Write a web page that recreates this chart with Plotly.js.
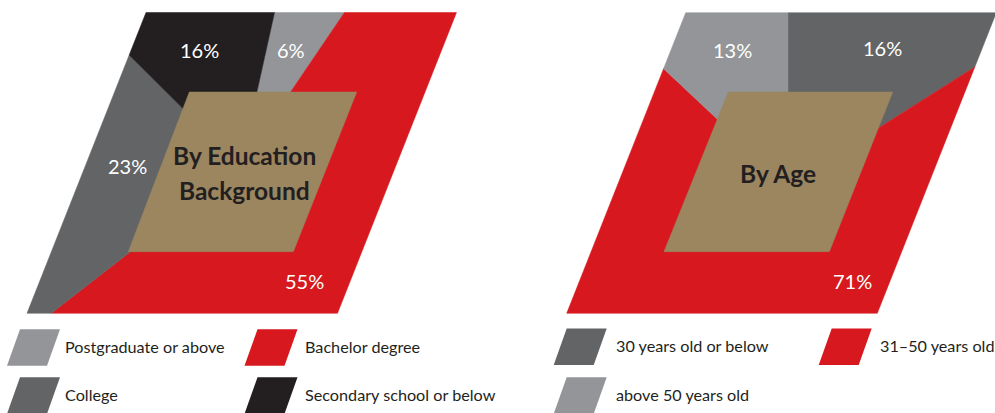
<!DOCTYPE html>
<html><head><meta charset="utf-8">
<script src="https://cdn.plot.ly/plotly-3.0.1.min.js"></script>
<style>html,body{margin:0;padding:0;background:#fff}</style>
</head><body><div id="chart" style="width:995px;height:413px"></div>
<script>
// ---------- data ----------
const eduCategories = ['Postgraduate or above', 'Bachelor degree', 'College', 'Secondary school or below'];
const eduValues = [6, 55, 23, 16];
const eduColors = ['#939598', '#d7191f', '#636466', '#231f20'];
const eduTitle = 'By Education<br>Background';

const ageCategories = ['30 years old or below', '31–50 years old', 'above 50 years old'];
const ageValues = [16, 71, 13];
const ageColors = ['#636466', '#d7191f', '#939598'];
const ageTitle = 'By Age';

// ---------- layout geometry (pixel space) ----------
const charts = [
  {
    cats: eduCategories, vals: eduValues, colors: eduColors, title: eduTitle,
    outer: [[146, 12.5], [456.5, 12.5], [337.5, 313.3], [27, 313.3]],
    inner: [[189.3, 92], [356.7, 92], [293.3, 251.7], [128.3, 251.7]],
    center: [240.5, 166], rotation: 12.5,
    labelPos: [[291, 50], [304, 281], [127, 166], [199, 50]],
    titlePos: [244, 172.7],
    legend: { cols: [[20, 63], [257.5, 303]], rows: [329.3, 377.3], order: [[0, 0], [1, 0], [0, 1], [1, 1]] }
  },
  {
    cats: ageCategories, vals: ageValues, colors: ageColors, title: ageTitle,
    outer: [[685.7, 12.7], [996.3, 12.7], [877.3, 313.3], [566.7, 313.3]],
    inner: [[728.3, 92], [892.7, 92], [829.3, 251.7], [664, 251.7]],
    center: [788, 185.5], rotation: 0,
    labelPos: [[882, 48], [852, 281], [732, 50]],
    titlePos: [778, 173.5],
    legend: { cols: [[566.7, 614], [831.7, 878]], rows: [328.5, 377.3], order: [[0, 0], [1, 0], [0, 1]] }
  }
];

const cross = (a, b) => a[0] * b[1] - a[1] * b[0];
function rayHit(c, deg, poly) {
  const r = deg * Math.PI / 180, d = [Math.sin(r), -Math.cos(r)];
  let best = null;
  for (let i = 0; i < poly.length; i++) {
    const p1 = poly[i], p2 = poly[(i + 1) % poly.length];
    const e = [p2[0] - p1[0], p2[1] - p1[1]];
    const w = [p1[0] - c[0], p1[1] - c[1]];
    const den = cross(d, e);
    if (Math.abs(den) < 1e-9) continue;
    const t = cross(w, e) / den, s = cross(w, d) / den;
    if (t > 0 && s >= -1e-9 && s <= 1 + 1e-9 && (best === null || t < best)) best = t;
  }
  return [c[0] + best * d[0], c[1] + best * d[1]];
}
function angleOf(c, p) {
  return Math.atan2(p[0] - c[0], -(p[1] - c[1])) * 180 / Math.PI;
}

const traces = [], annotations = [], shapes = [];
const txtFont = 'Lato, "Open Sans", sans-serif';

charts.forEach(ch => {
  const total = ch.vals.reduce((a, b) => a + b, 0);
  let cum = 0;
  ch.vals.forEach((v, i) => {
    const a0 = ch.rotation + cum / total * 360;
    const a1 = a0 + v / total * 360;
    cum += v;
    const angs = [a0, a1];
    ch.outer.forEach(p => {
      let a = angleOf(ch.center, p);
      while (a < a0) a += 360;
      if (a < a1) angs.push(a);
    });
    angs.sort((x, y) => x - y);
    const pts = [ch.center].concat(angs.map(a => rayHit(ch.center, a, ch.outer)));
    pts.push(ch.center);
    traces.push({
      type: 'scatter', mode: 'lines', fill: 'toself',
      x: pts.map(p => p[0]), y: pts.map(p => p[1]),
      fillcolor: ch.colors[i], line: { color: ch.colors[i], width: 0.5 },
      hoverinfo: 'skip', showlegend: false
    });
    annotations.push({
      x: ch.labelPos[i][0], y: ch.labelPos[i][1], xref: 'x', yref: 'y',
      text: v + '%', showarrow: false,
      font: { family: txtFont, size: 20, color: '#ffffff' }
    });
    // legend entry
    const [ci, ri] = ch.legend.order[i];
    const sx = ch.legend.cols[ci][0], tx = ch.legend.cols[ci][1], sy = ch.legend.rows[ri];
    const w = 40, h = 36.5, sh = 13;
    shapes.push({
      type: 'path', xref: 'x', yref: 'y', layer: 'above',
      path: `M${sx},${sy} L${sx + w},${sy} L${sx + w - sh},${sy + h} L${sx - sh},${sy + h} Z`,
      fillcolor: ch.colors[i], line: { width: 0 }
    });
    annotations.push({
      x: tx, y: sy + h / 2 - 1, xref: 'x', yref: 'y', xanchor: 'left', yanchor: 'middle',
      text: ch.cats[i], showarrow: false,
      font: { family: txtFont, size: 16.2, color: '#231f20' }
    });
  });
  const ip = ch.inner.concat([ch.inner[0]]);
  traces.push({
    type: 'scatter', mode: 'lines', fill: 'toself',
    x: ip.map(p => p[0]), y: ip.map(p => p[1]),
    fillcolor: '#9b8660', line: { color: '#9b8660', width: 0.5 },
    hoverinfo: 'skip', showlegend: false
  });
  const lines = ch.title.split('<br>');
  const spacing = 34.7;
  lines.forEach((ln, k) => {
    annotations.push({
      x: ch.titlePos[0], y: ch.titlePos[1] + (k - (lines.length - 1) / 2) * spacing, xref: 'x', yref: 'y',
      text: '<b>' + ln + '</b>', showarrow: false,
      font: { family: txtFont, size: 24.5, color: '#231f20' }
    });
  });
});

Plotly.newPlot('chart', traces, {
  width: 995, height: 413,
  margin: { l: 0, r: 0, t: 0, b: 0 },
  paper_bgcolor: '#ffffff', plot_bgcolor: '#ffffff',
  xaxis: { range: [0, 995], visible: false, fixedrange: true },
  yaxis: { range: [413, 0], visible: false, fixedrange: true },
  showlegend: false,
  annotations: annotations, shapes: shapes
}, { staticPlot: true });
</script></body></html>
